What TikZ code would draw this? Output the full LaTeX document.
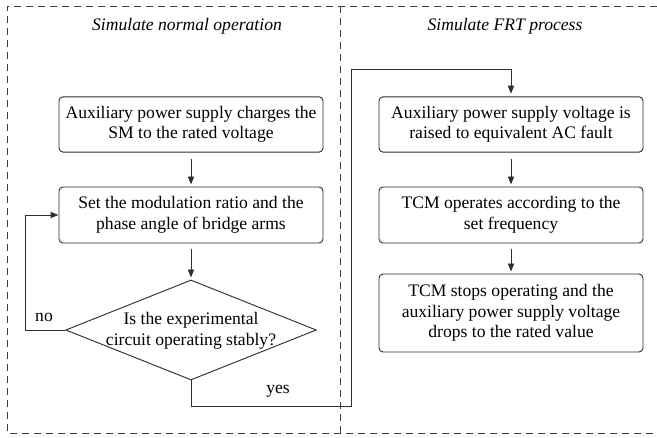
\documentclass[tikz,border=0pt]{standalone}
\usepackage{fontspec}
\setmainfont{Liberation Serif}
\usetikzlibrary{arrows.meta,positioning,calc,shapes.geometric}
\definecolor{linegray}{HTML}{2E2E2E}
\definecolor{framegray}{HTML}{3C3C3C}
\tikzset{
  box/.style={draw=linegray, line width=0.7pt, rounded corners=3pt, align=center, inner sep=0pt, font=\fontsize{13.2}{15.4}\selectfont},
  stepbox/.style={box, minimum width=198pt, minimum height=41.5pt},
  decision/.style={draw=linegray, line width=0.7pt, diamond, inner sep=0pt, minimum width=188pt, minimum height=75pt},
  lbl/.style={font=\fontsize{13.2}{15.4}\selectfont, inner sep=0pt},
  arr/.style={-{Triangle[length=6pt,width=4.6pt]}, line width=0.7pt, linegray},
  frame/.style={dash pattern=on 5.5pt off 3.5pt, line width=0.7pt, framegray},
}
\begin{document}
\begin{tikzpicture}[x=0.75pt,y=-0.75pt]
        \useasboundingbox (0,0) rectangle (657,438);
        \draw[frame] (657,6) -- (7,6) -- (7,433) -- (657,433);
        \draw[frame] (340,6) -- (340,433);
        \node[lbl, font=\fontsize{13.2}{15.4}\selectfont\itshape] at (187,26) (titleL) {Simulate normal operation};
        \node[lbl, font=\fontsize{13.2}{15.4}\selectfont\itshape] at (505,26) (titleR) {Simulate FRT process};
        \node[stepbox] at (191,124.5) (charge) {Auxiliary power supply charges the\\SM to the rated voltage};
        \node[stepbox, minimum height=42pt] at (191,215) (setmod) {Set the modulation ratio and the\\phase angle of bridge arms};
        \node[decision] at (191,330) (stable) {};
        \node[lbl, align=center] at (191,331) (stabletext) {Is the experimental\\circuit operating stably?};
        \node[stepbox] at (511,124.5) (fault) {Auxiliary power supply voltage is\\raised to equivalent AC fault};
        \node[stepbox, minimum height=42pt] at (511,215) (tcmon) {TCM operates according to the\\set frequency};
        \node[stepbox, minimum height=58.5pt] at (511,313) (tcmoff) {TCM stops operating and the\\auxiliary power supply voltage\\drops to the rated value};
        \node[lbl] at (44,317) (nolbl) {no};
        \node[lbl] at (278,391) (yeslbl) {yes};
        \coordinate (noturn) at (25,330);
        \coordinate (yesturn) at (351,406);
        \coordinate (topturn) at (351,69);
        \draw[arr, shorten <=4.5pt, shorten >=1.5pt] (charge.south) -- (setmod.north);
        \draw[arr, shorten <=4.5pt, shorten >=1.5pt] (setmod.south) -- (stable.north);
        \draw[arr] (stable.west) -- (noturn) |- (setmod.west);
        \draw[arr, shorten >=2pt] (stable.south) |- (yesturn) -- (topturn) -| (fault.north);
        \draw[arr, shorten <=4.5pt, shorten >=1.5pt] (fault.south) -- (tcmon.north);
        \draw[arr, shorten <=4.5pt, shorten >=1.5pt] (tcmon.south) -- (tcmoff.north);
      \end{tikzpicture}
\end{document}
